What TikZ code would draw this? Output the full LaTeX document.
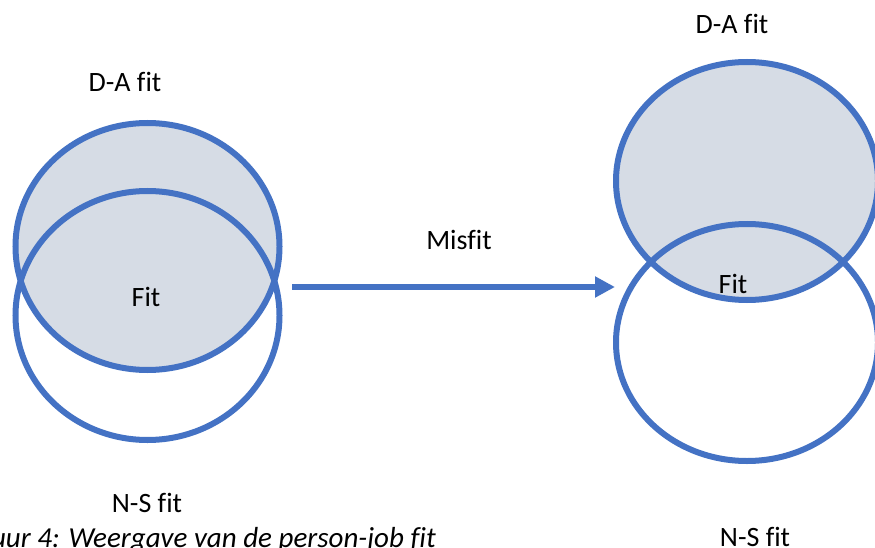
\documentclass[tikz,border=0pt]{standalone}
\usepackage{fontspec}
\setmainfont{Carlito}[Ligatures=NoCommon]
\usetikzlibrary{arrows.meta,shapes.geometric}
\definecolor{ringblue}{HTML}{4472C4}
\definecolor{dafill}{HTML}{D6DCE5}
\tikzset{
  ring/.style={draw=ringblue, line width=6pt},
  lbl/.style={font=\fontsize{28}{33}\selectfont, text=black, inner sep=0pt},
  flow/.style={draw=ringblue, line width=6pt, -{Triangle[length=20pt,width=20pt]}},
}
\begin{document}
\begin{tikzpicture}[x=1pt,y=-1pt]
\useasboundingbox (0,0) rectangle (875,548);
\clip (0,0) rectangle (875,548);
\fill[white] (0,0) rectangle (875,548);

% left pair: D-A fit shaded, N-S fit outline only
\fill[dafill] (147.5,246.5) ellipse [x radius=132, y radius=123.5];
\draw[ring] (147.5,246.5) ellipse [x radius=132, y radius=123.5];
\draw[ring] (147.5,315.5) ellipse [x radius=132, y radius=124.5];

% right pair: circles pulled apart
\fill[dafill] (747,181) ellipse [x radius=131, y radius=119];
\draw[ring] (747,181) ellipse [x radius=131, y radius=119];
\draw[ring] (747,342.5) ellipse [x radius=131, y radius=118.5];

% labels
\node[lbl] (daL)  at (125,82)  {D-A fit};
\node[lbl] (fitL) at (146,297) {Fit};
\node[lbl] (nsL)  at (147,503) {N-S fit};
\node[lbl] (daR)  at (732,24)  {D-A fit};
\node[lbl] (fitR) at (733,284) {Fit};
\node[lbl] (nsR)  at (755,537) {N-S fit};
\node[lbl] (mis)  at (459,240) {Misfit};

% transition arrow
\coordinate (from) at (292,287);
\coordinate (to)   at (615,287);
\draw[flow] (from) -- (to);

% caption
\node[font=\fontsize{29}{34}\selectfont\itshape, anchor=base east, inner sep=0pt] (cap) at (436,547) {Figuur 4: Weergave van de person-job fit};
\end{tikzpicture}
\end{document}
